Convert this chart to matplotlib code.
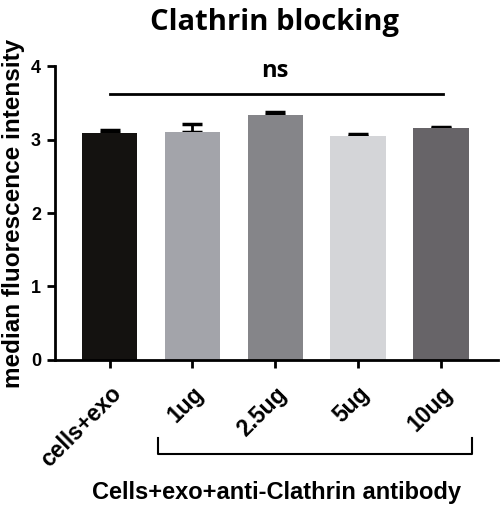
import matplotlib
matplotlib.use("Agg")
import matplotlib.pyplot as plt
from matplotlib.lines import Line2D

categories = ["cells+exo", "1ug", "2.5ug", "5ug", "10ug"]
values = [3.09, 3.10, 3.33, 3.05, 3.16]
errors = [0.04, 0.11, 0.04, 0.03, 0.015]
colors = ["#141210", "#a3a4aa", "#858589", "#d4d5d8", "#676468"]
yticks = [0, 1, 2, 3, 4]

fig = plt.figure(figsize=(5.0, 5.17), dpi=100)
ax = fig.add_axes([0.11, 0.3037, 0.886, 0.5686])
x = list(range(len(categories)))
ax.errorbar(x, values, yerr=[[0]*len(errors), errors], fmt="none", ecolor="black",
            elinewidth=2, capsize=7, capthick=2.5, zorder=1)
ax.bar(x, values, width=0.67, color=colors, zorder=2)
ax.set_xlim(-0.66, 4.69)
ax.set_ylim(0, 4)
ax.set_yticks(yticks)
ax.spines["top"].set_visible(False)
ax.spines["right"].set_visible(False)
for s in ["left", "bottom"]:
    ax.spines[s].set_linewidth(2)
ax.tick_params(axis="both", width=2, length=6)
ax.tick_params(axis="y", labelsize=13, pad=4)
ax.tick_params(axis="x", labelsize=16.5, pad=10)
ax.set_xticks(x)
ax.set_xticklabels(categories, rotation=45, ha="right", rotation_mode="anchor",
                   fontfamily="Liberation Sans", fontweight="bold")
for lab in ax.get_yticklabels():
    lab.set_fontfamily("Liberation Sans")
    lab.set_fontweight("bold")
ax.set_ylabel("median fluorescence intensity", fontfamily="Liberation Sans",
              fontweight="bold", fontsize=17.5, labelpad=4)

# ns line
ax.plot([0, 4.02], [3.62, 3.62], color="black", lw=2, clip_on=False)
ax.text(2.0, 3.93, "ns", ha="center", va="center", fontsize=17,
        fontfamily="Open Sans", fontweight="bold")

fig.text(0.55, 0.957, "Clathrin blocking", ha="center", va="center",
         fontsize=21, fontfamily="Open Sans", fontweight="bold")

# bracket
by_top, by_bot = 1 - 438/517, 1 - 454/517
fig.add_artist(Line2D([158/500, 158/500, 472/500, 472/500], [by_top, by_bot, by_bot, by_top],
                      color="black", lw=1.5))
fig.text(0.553, 1 - 493/517, "Cells+exo+anti-Clathrin antibody", ha="center", va="center",
         fontsize=17, fontfamily="Liberation Sans", fontweight="bold")

fig.savefig("out.png", dpi=100)
